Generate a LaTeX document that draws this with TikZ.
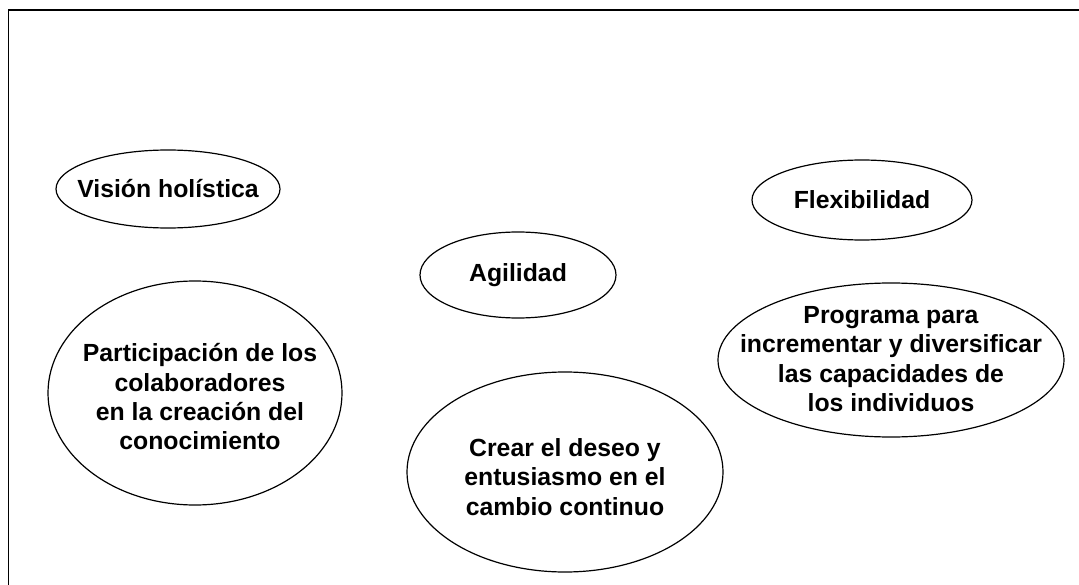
\documentclass[tikz,border=0pt]{standalone}
\usepackage{fontspec}
\setmainfont{Liberation Sans}

\tikzset{
  idea/.style={inner sep=0pt, align=center,
    font=\fontsize{18.6}{22}\selectfont\bfseries},
  rim/.style={line width=0.9pt}
}

\begin{document}
\begin{tikzpicture}[x=0.75pt,y=0.75pt,yscale=-1,xscale=1]
\useasboundingbox (0,0) rectangle (1079,585);
%Frame 
\coordinate (topright) at (1079,10);
\coordinate (corner) at (8.5,10);
\coordinate (bottomleft) at (8.5,585);
\draw [line width=1.4pt]  (topright) -- (corner) -- (bottomleft) ;
%Shape: Ellipse 
\coordinate (particrim) at (195,393);
\coordinate (progrim) at (891,360);
\coordinate (crearrim) at (565,472);
% Text Node
\node [idea] (vision) at (168,189) {Visión holística};
% Text Node
\node [idea] (flex) at (862,200) {Flexibilidad};
% Text Node
\node [idea] (agil) at (518,275) {Agilidad};
% Text Node
\node [idea] (partic) at (200,397) {Participación de los\\colaboradores\\en la creación del\\conocimiento};
% Text Node
\node [idea] (prog) at (891,359) {Programa para\\incrementar y diversificar\\las capacidades de\\los individuos};
% Text Node
\node [idea] (crear) at (565,477) {Crear el deseo y\\entusiasmo en el\\cambio continuo};
%Shape: Ellipse 
\draw [rim] (vision.center) ellipse [x radius=112, y radius=39];
\draw [rim] (flex.center) ellipse [x radius=110, y radius=40];
\draw [rim] (agil.center) ellipse [x radius=98, y radius=43];
\draw [rim] (particrim) ellipse [x radius=147, y radius=112];
\draw [rim] (progrim) ellipse [x radius=173, y radius=77];
\draw [rim] (crearrim) ellipse [x radius=158, y radius=100];
\end{tikzpicture}
\end{document}
